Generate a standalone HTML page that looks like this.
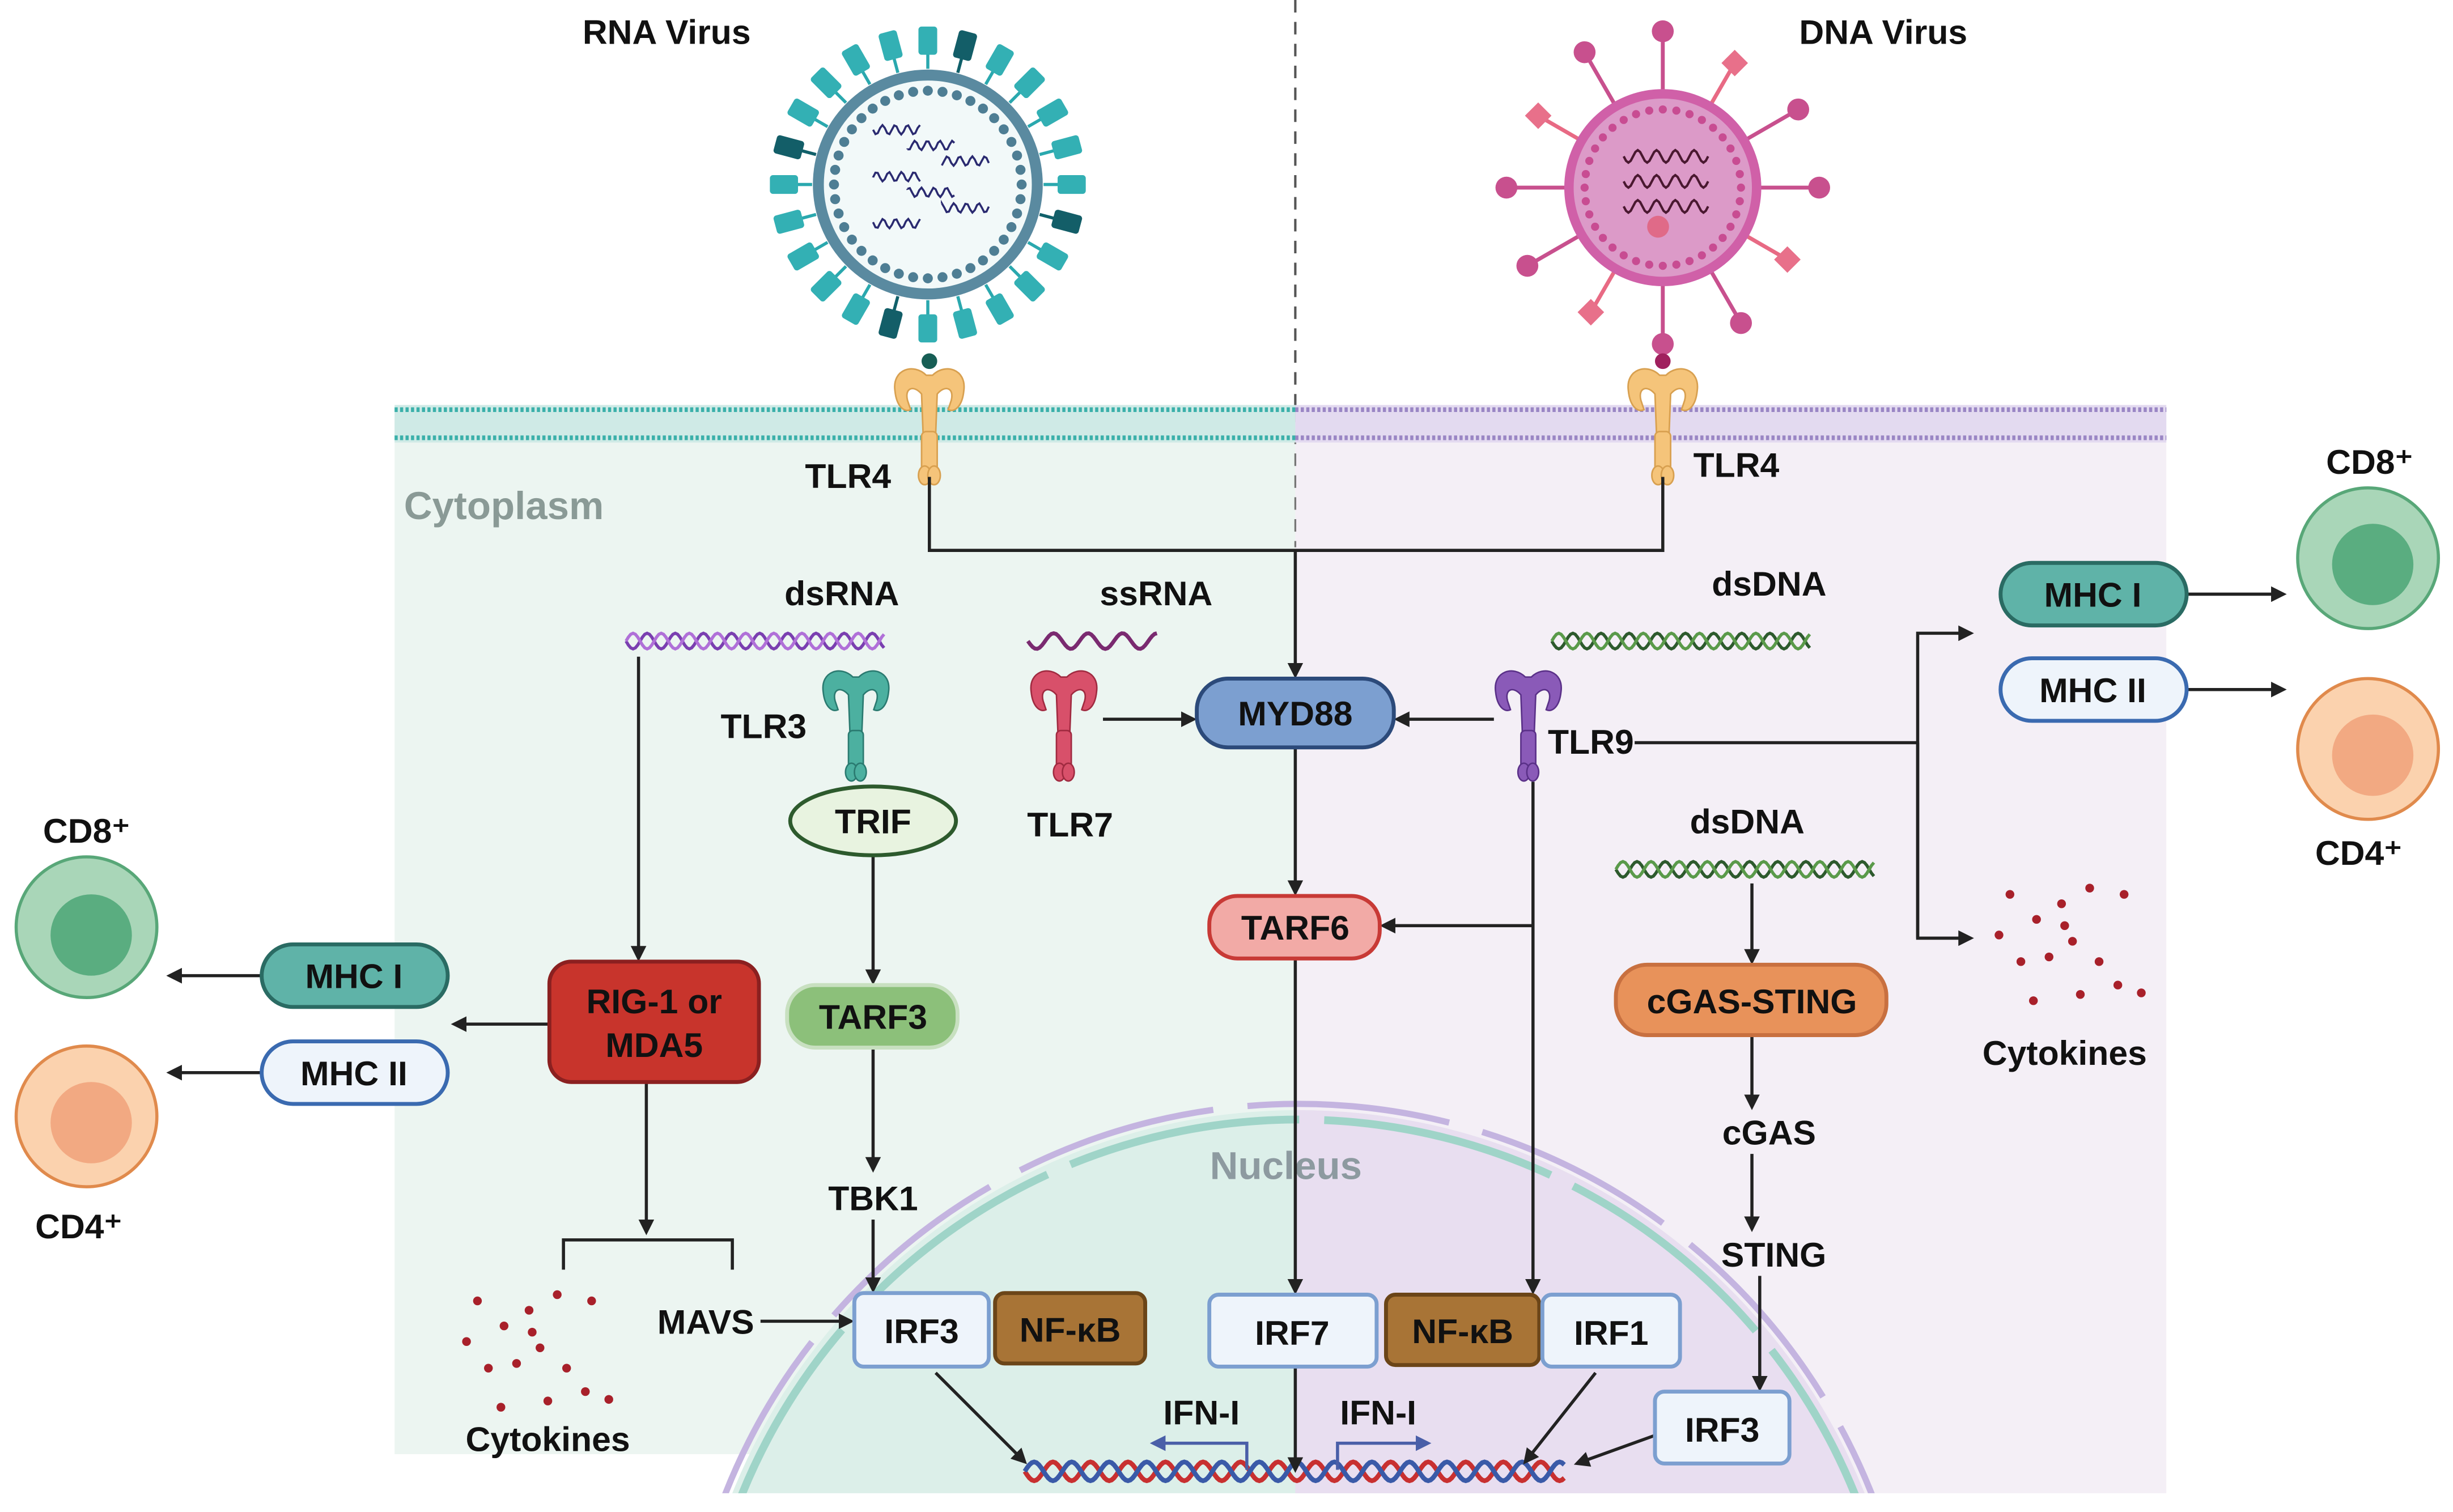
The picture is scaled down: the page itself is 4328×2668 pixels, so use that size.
<!DOCTYPE html>
<html><head><meta charset="utf-8"><style>
html,body{margin:0;padding:0;background:#fff;overflow:hidden;width:4328px;height:2668px}
svg{display:block}
text{font-family:"Liberation Sans",sans-serif;font-weight:bold;fill:#111}
</style></head><body>
<svg id="s" width="4328" height="2668" viewBox="0 0 1568 967" xmlns="http://www.w3.org/2000/svg">
<defs>
<marker id="a" markerWidth="10" markerHeight="10" refX="8" refY="5" orient="auto" markerUnits="userSpaceOnUse"><path d="M0,0 L10,5 L0,10 z" fill="#222"/></marker>
<marker id="b" markerWidth="10" markerHeight="10" refX="8" refY="5" orient="auto" markerUnits="userSpaceOnUse"><path d="M0,0 L10,5 L0,10 z" fill="#4a5fa8"/></marker>
<clipPath id="nuc"><rect x="252" y="262" width="1133" height="693"/></clipPath>
<clipPath id="circ"><circle cx="830" cy="1100" r="390"/></clipPath>
</defs>
<rect x="252" y="262" width="576" height="668" fill="#ecf5f1"/>
<rect x="828" y="262" width="557" height="693" fill="#f4eff6"/>
<g clip-path="url(#nuc)">
<circle cx="830" cy="1100" r="390" fill="#dcefe9"/>
<rect x="828" y="690" width="400" height="300" fill="#e8def0" clip-path="url(#circ)"/>
<circle cx="830" cy="1100" r="384" fill="none" stroke="#9fd4c8" stroke-width="5" stroke-dasharray="150 16"/>
<circle cx="830" cy="1100" r="394" fill="none" stroke="#c4b4e0" stroke-width="4" stroke-dasharray="130 22"/>
</g>
<line x1="828" y1="0" x2="828" y2="262" stroke="#555" stroke-width="1.5" stroke-dasharray="8 6"/>
<line x1="828" y1="262" x2="828" y2="350" stroke="#777" stroke-width="1.2" stroke-dasharray="8 6"/>
<rect x="252" y="259" width="576" height="24" fill="#cfeae6"/>
<rect x="828" y="259" width="557" height="24" fill="#e3daf0"/>
<line x1="252" y1="262" x2="828" y2="262" stroke="#3bb0aa" stroke-width="3" stroke-dasharray="2 1.5"/>
<line x1="252" y1="280" x2="828" y2="280" stroke="#3bb0aa" stroke-width="3" stroke-dasharray="2 1.5"/>
<line x1="828" y1="262" x2="1385" y2="262" stroke="#9a86c4" stroke-width="3" stroke-dasharray="2 1.5"/>
<line x1="828" y1="280" x2="1385" y2="280" stroke="#9a86c4" stroke-width="3" stroke-dasharray="2 1.5"/>
<g id="dyn"></g>
<text x="426" y="28" font-size="22" text-anchor="middle">RNA Virus</text>
<text x="1204" y="28" font-size="22" text-anchor="middle">DNA Virus</text>
<text x="258" y="332" font-size="25" style="fill:#8a9a96">Cytoplasm</text>
<text x="822" y="754" font-size="25" text-anchor="middle" style="fill:#8d9aa0">Nucleus</text>
<text x="542" y="312" font-size="22" text-anchor="middle">TLR4</text>
<text x="1110" y="305" font-size="22" text-anchor="middle">TLR4</text>
<text x="538" y="387" font-size="22" text-anchor="middle">dsRNA</text>
<text x="739" y="387" font-size="22" text-anchor="middle">ssRNA</text>
<text x="1131" y="381" font-size="22" text-anchor="middle">dsDNA</text>
<text x="1117" y="533" font-size="22" text-anchor="middle">dsDNA</text>
<text x="488" y="472" font-size="22" text-anchor="middle">TLR3</text>
<text x="684" y="535" font-size="22" text-anchor="middle">TLR7</text>
<text x="1017" y="482" font-size="22" text-anchor="middle">TLR9</text>
<text x="558" y="774" font-size="22" text-anchor="middle">TBK1</text>
<text x="451" y="853" font-size="22" text-anchor="middle">MAVS</text>
<text x="1131" y="732" font-size="22" text-anchor="middle">cGAS</text>
<text x="1134" y="810" font-size="22" text-anchor="middle">STING</text>
<text x="350" y="928" font-size="22" text-anchor="middle">Cytokines</text>
<text x="1320" y="681" font-size="22" text-anchor="middle">Cytokines</text>
<text x="768" y="911" font-size="22" text-anchor="middle">IFN-I</text>
<text x="881" y="911" font-size="22" text-anchor="middle">IFN-I</text>
<text x="55" y="539" font-size="22" text-anchor="middle">CD8⁺</text>
<text x="50" y="792" font-size="22" text-anchor="middle">CD4⁺</text>
<text x="1515" y="303" font-size="22" text-anchor="middle">CD8⁺</text>
<text x="1508" y="553" font-size="22" text-anchor="middle">CD4⁺</text>
<circle cx="55" cy="593" r="45" fill="#a9d6b8" stroke="#58a778" stroke-width="2"/><circle cx="58" cy="598" r="26" fill="#5aad80"/>
<circle cx="55" cy="714" r="45" fill="#fbd2ae" stroke="#e08a4c" stroke-width="2"/><circle cx="58" cy="718" r="26" fill="#f2a982"/>
<circle cx="1514" cy="357" r="45" fill="#a9d6b8" stroke="#58a778" stroke-width="2"/><circle cx="1517" cy="361" r="26" fill="#5aad80"/>
<circle cx="1514" cy="479" r="45" fill="#fbd2ae" stroke="#e08a4c" stroke-width="2"/><circle cx="1517" cy="483" r="26" fill="#f2a982"/>
<g stroke="#222" stroke-width="2" fill="none">
<path d="M594,305 V352 H1063 V305"/>
<path d="M828,352 V432" marker-end="url(#a)"/>
<path d="M705,460 H763" marker-end="url(#a)"/>
<path d="M955,460 H893" marker-end="url(#a)"/>
<path d="M828,478 V571" marker-end="url(#a)"/>
<path d="M980,500 V826" marker-end="url(#a)"/>
<path d="M980,592 H884" marker-end="url(#a)"/>
<path d="M828,613 V826" marker-end="url(#a)"/>
<path d="M828,874 V940" marker-end="url(#a)"/>
<path d="M408,420 V613" marker-end="url(#a)"/>
<path d="M351,655 H290" marker-end="url(#a)"/>
<path d="M167,624 H108" marker-end="url(#a)"/>
<path d="M167,686 H108" marker-end="url(#a)"/>
<path d="M413,692 V788" marker-end="url(#a)"/>
<path d="M360,812 V793 H468 V812"/>
<path d="M486,845 H544" marker-end="url(#a)"/>
<path d="M558,547 V628" marker-end="url(#a)"/>
<path d="M558,670 V748" marker-end="url(#a)"/>
<path d="M558,780 V825" marker-end="url(#a)"/>
<path d="M598,878 L655,935" marker-end="url(#a)"/>
<path d="M1020,878 L975,935" marker-end="url(#a)"/>
<path d="M1058,918 L1008,936" marker-end="url(#a)"/>
<path d="M1120,565 V615" marker-end="url(#a)"/>
<path d="M1120,662 V708" marker-end="url(#a)"/>
<path d="M1120,738 V786" marker-end="url(#a)"/>
<path d="M1125,816 V888" marker-end="url(#a)"/>
<path d="M1045,475 H1226"/>
<path d="M1226,600 V405 H1260" marker-end="url(#a)"/>
<path d="M1226,475 V600 H1260" marker-end="url(#a)"/>
<path d="M1398,380 H1460" marker-end="url(#a)"/>
<path d="M1398,441 H1460" marker-end="url(#a)"/>
</g>
<g stroke="#4a5fa8" stroke-width="2" fill="none">
<path d="M797,940 V923 H737" marker-end="url(#b)"/>
<path d="M855,940 V923 H913" marker-end="url(#b)"/>
</g>
<g stroke-width="2.5">
<rect x="765" y="434" width="126" height="44" rx="20" fill="#7c9fd0" stroke="#2c4a7a"/>
<rect x="773" y="573" width="109" height="40" rx="18" fill="#f2aaa6" stroke="#c83a36"/>
<rect x="351" y="615" width="134" height="77" rx="14" fill="#c8342c" stroke="#8b2020"/>
<ellipse cx="558" cy="525" rx="53" ry="22" fill="#e8f3e0" stroke="#2d5a2d"/>
<rect x="503" y="630" width="109" height="40" rx="18" fill="#8cc07a" stroke="#c8e0c0"/>
<rect x="1033" y="617" width="173" height="45" rx="20" fill="#e8925a" stroke="#c87040"/>
<rect x="167" y="604" width="119" height="40" rx="20" fill="#5fb3a8" stroke="#2a6b63"/>
<rect x="167" y="666" width="119" height="40" rx="20" fill="#eef4fb" stroke="#3a6ab0"/>
<rect x="1279" y="360" width="119" height="40" rx="20" fill="#5fb3a8" stroke="#2a6b63"/>
<rect x="1279" y="421" width="119" height="40" rx="20" fill="#eef4fb" stroke="#3a6ab0"/>
<rect x="546" y="827" width="86" height="47" rx="6" fill="#eef4fb" stroke="#7c9fd0"/>
<rect x="636" y="827" width="96" height="45" rx="6" fill="#a87436" stroke="#6b4518"/>
<rect x="773" y="828" width="107" height="46" rx="6" fill="#eef4fb" stroke="#7c9fd0"/>
<rect x="886" y="828" width="98" height="45" rx="6" fill="#a87436" stroke="#6b4518"/>
<rect x="986" y="828" width="88" height="46" rx="6" fill="#eef4fb" stroke="#7c9fd0"/>
<rect x="1058" y="890" width="86" height="46" rx="6" fill="#eef4fb" stroke="#7c9fd0"/>
</g>
<g font-size="22" text-anchor="middle">
<text x="828" y="464">MYD88</text>
<text x="828" y="601">TARF6</text>
<text x="418" y="648">RIG-1 or</text>
<text x="418" y="676">MDA5</text>
<text x="558" y="533">TRIF</text>
<text x="558" y="658">TARF3</text>
<text x="1120" y="648">cGAS-STING</text>
<text x="226" y="632">MHC I</text>
<text x="226" y="694">MHC II</text>
<text x="1338" y="388">MHC I</text>
<text x="1338" y="449">MHC II</text>
<text x="589" y="859">IRF3</text>
<text x="684" y="858">NF-κB</text>
<text x="826" y="860">IRF7</text>
<text x="935" y="859">NF-κB</text>
<text x="1030" y="860">IRF1</text>
<text x="1101" y="922">IRF3</text>
</g>
</svg>
<script>
(function(){
var g=document.getElementById('dyn'),h='';
function wave(x1,x2,y,amp,per,col,ph,w){var d='M'+x1+','+(y+amp*Math.sin(ph));for(var x=x1;x<=x2;x+=1.5)d+=' L'+x+','+(y+amp*Math.sin((x-x1)/per*2*Math.PI+ph)).toFixed(2);return '<path d="'+d+'" fill="none" stroke="'+col+'" stroke-width="'+(w||2)+'"/>';}
h+=wave(400,565,410,5,18,'#7a3fb0',0)+wave(400,565,410,5,18,'#b070d8',Math.PI);
h+=wave(657,740,410,5,22,'#7a2a70',0,2.5);
h+=wave(992,1158,410,5,18,'#2d5a2d',0)+wave(992,1158,410,5,18,'#5a9a4a',Math.PI);
h+=wave(1033,1198,556,5,18,'#2d5a2d',0)+wave(1033,1198,556,5,18,'#5a9a4a',Math.PI);
h+=wave(655,1000,941,6,24,'#c83030',0,3)+wave(655,1000,941,6,24,'#3a5aa8',Math.PI,3);
var cx=593,cy=118,i,a;
for(i=0;i<24;i++){a=i/24*2*Math.PI;var r1=74,r2=92,x1=cx+r1*Math.cos(a),y1=cy+r1*Math.sin(a),x2=cx+r2*Math.cos(a),y2=cy+r2*Math.sin(a);
var dark=(i%6==1);h+='<line x1="'+x1+'" y1="'+y1+'" x2="'+x2+'" y2="'+y2+'" stroke="'+(dark?'#10606a':'#2aa8ae')+'" stroke-width="2"/>';
h+='<rect x="'+(x2-6)+'" y="'+(y2-9)+'" width="12" height="18" rx="2" fill="'+(dark?'#135e68':'#33b0b4')+'" transform="rotate('+(a*180/Math.PI+90)+' '+x2+' '+y2+')"/>';}
h+='<circle cx="'+cx+'" cy="'+cy+'" r="70" fill="#f2f9f9" stroke="#5a8aa0" stroke-width="7"/>';
for(i=0;i<40;i++){a=i/40*2*Math.PI;h+='<circle cx="'+(cx+60*Math.cos(a))+'" cy="'+(cy+60*Math.sin(a))+'" r="3.2" fill="#4e7e94"/>';}
for(i=0;i<7;i++){var sx=cx-35+(i%3)*22,sy=cy-35+i*10;h+=wave(sx,sx+30,sy,3,8,'#2a2a70',i,1.3);}
cx=1063;cy=120;
for(i=0;i<12;i++){a=i/12*2*Math.PI-Math.PI/2;var big=(i%3!=1);var re=big?100:92;
var ex=cx+re*Math.cos(a),ey=cy+re*Math.sin(a);h+='<line x1="'+(cx+58*Math.cos(a))+'" y1="'+(cy+58*Math.sin(a))+'" x2="'+ex+'" y2="'+ey+'" stroke="'+(big?'#c8508e':'#e86a84')+'" stroke-width="2.5"/>';
h+=big?'<circle cx="'+ex+'" cy="'+ey+'" r="7" fill="#c8508e"/>':'<rect x="'+(ex-6)+'" y="'+(ey-6)+'" width="12" height="12" fill="#e8708a" transform="rotate(45 '+ex+' '+ey+')"/>';}
h+='<circle cx="'+cx+'" cy="'+cy+'" r="60" fill="#dc9ac8" stroke="#d060a8" stroke-width="6"/>';
for(i=0;i<36;i++){a=i/36*2*Math.PI;h+='<circle cx="'+(cx+50*Math.cos(a))+'" cy="'+(cy+50*Math.sin(a))+'" r="2.6" fill="#c84c92"/>';}
for(i=0;i<3;i++)h+=wave(cx-25,cx+30,cy-20+i*16,4,12,'#4a1830',0,1.5);
h+='<circle cx="'+(cx-3)+'" cy="'+(cy+25)+'" r="7" fill="#e06a88"/>';
h+='<circle cx="594" cy="231" r="5" fill="#175e55"/><circle cx="1063" cy="231" r="5" fill="#a0205e"/>';
function tlr(x,y,col,dk,sc){sc=sc||1;return '<g transform="translate('+x+','+y+') scale('+sc+')" fill="'+col+'" stroke="'+dk+'" stroke-width="1">'+
'<path d="M-2,0 C-10,-8 -24,-4 -22,10 C-21,20 -16,24 -12,22 L-14,16 C-16,8 -10,6 -5,12 L-4,38 L4,38 L5,12 C10,6 16,8 14,16 L12,22 C16,24 21,20 22,10 C24,-4 10,-8 2,0 Z"/>'+
'<rect x="-5" y="36" width="10" height="26" rx="3"/><ellipse cx="-3" cy="64" rx="4" ry="6"/><ellipse cx="3" cy="64" rx="4" ry="6"/></g>';}
h+=tlr(594,240,'#f5c47a','#d8a050',1);
h+=tlr(1063,240,'#f5c47a','#d8a050',1);
h+=tlr(547,433,'#4cb0a0','#2a7a70',0.95);
h+=tlr(680,433,'#d8506a','#a02a40',0.95);
h+=tlr(977,433,'#8a5ab8','#5a3088',0.95);
var d1=[[305,832],[322,848],[338,838],[356,828],[378,832],[345,862],[330,872],[312,875],[362,875],[374,890],[350,896],[320,900],[298,858],[389,895],[340,852]];
d1.forEach(function(p){h+='<circle cx="'+p[0]+'" cy="'+p[1]+'" r="2.8" fill="#a8202a"/>';});
d1.forEach(function(p){h+='<circle cx="'+(p[0]+980)+'" cy="'+(p[1]-260)+'" r="2.8" fill="#a8202a"/>';});
g.innerHTML=h;
})();
</script>
</body></html>
